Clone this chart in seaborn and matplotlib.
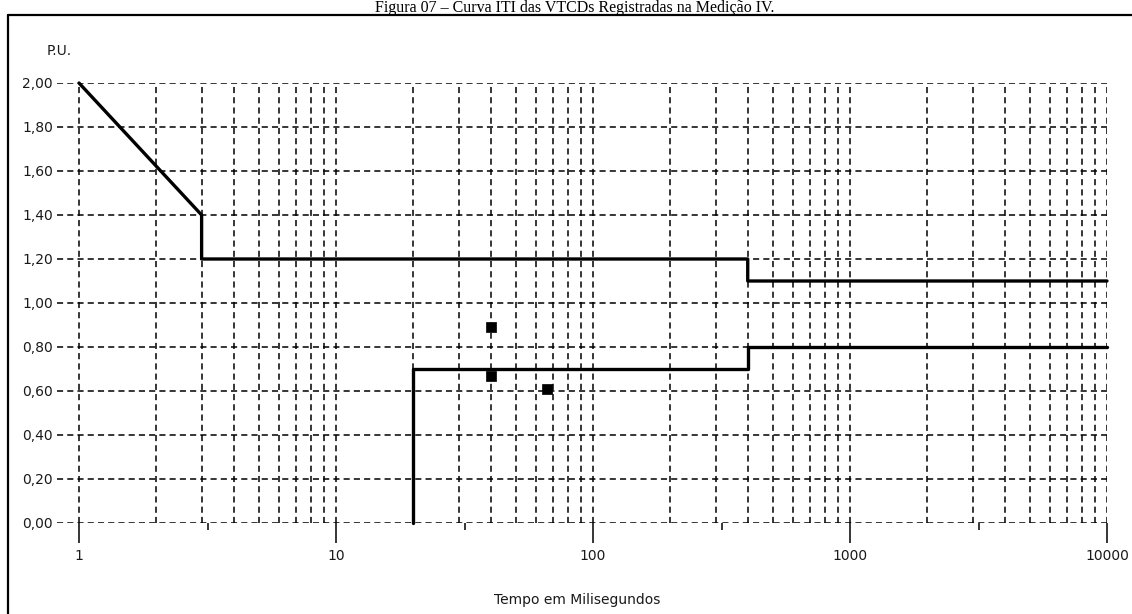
import matplotlib
matplotlib.use("Agg")
import matplotlib.pyplot as plt
from matplotlib.lines import Line2D
from matplotlib.ticker import FixedLocator, FuncFormatter, NullFormatter
import numpy as np
import pandas as pd
import seaborn as sns

# ITI tolerance envelope (time in ms, voltage in p.u.)
upper_t = [1, 3, 3, 400, 400, 10000]
upper_v = [2.00, 1.40, 1.20, 1.20, 1.10, 1.10]
lower_t = [20, 20, 400, 400, 10000]
lower_v = [0.00, 0.70, 0.70, 0.80, 0.80]

# Recorded voltage events
event_t = [40, 40, 66]
event_v = [0.89, 0.67, 0.61]

major_ticks = [1, 10, 100, 1000, 10000]
major_labels = ["1", "10", "100", "1000", "10000"]
y_ticks = [0.0, 0.2, 0.4, 0.6, 0.8, 1.0, 1.2, 1.4, 1.6, 1.8, 2.0]

title = "Figura 07 – Curva ITI das VTCDs Registradas na Medição IV."
x_label = "Tempo em Milisegundos"
y_label = "P.U."

sns.set_style("white")
plt.rcParams["font.family"] = ["DejaVu Sans"]

W, H = 1132, 614
fig = plt.figure(figsize=(W / 100, H / 100), dpi=100)
fig.patch.set_facecolor("white")

left_px, right_px, top_px, bottom_px = 57, 1107, 83, 523
ax = fig.add_axes([left_px / W, 1 - bottom_px / H,
                   (right_px - left_px) / W, (bottom_px - top_px) / H])
ax.set_facecolor("white")

ax.set_xscale("log")
ax.set_xlim(10 ** (-22 / 257), 10000)
ax.set_ylim(0, 2.0)

# dashed grid: decades plus 2..9 subdivisions
grid_x = [m * 10 ** d for d in range(0, 4) for m in range(1, 10)] + [10000]
for gx in grid_x:
    ax.axvline(gx, color="black", lw=1.1, ls=(0, (4, 2.7)), zorder=1)
for gy in y_ticks:
    ax.axhline(gy, color="black", lw=1.1, ls=(0, (4, 2.7)), zorder=1)

upper = pd.DataFrame({"t": upper_t, "v": upper_v})
lower = pd.DataFrame({"t": lower_t, "v": lower_v})
events = pd.DataFrame({"t": event_t, "v": event_v})

sns.lineplot(data=upper, x="t", y="v", sort=False, estimator=None,
             color="black", lw=2.4, ax=ax, zorder=3, clip_on=False)
sns.lineplot(data=lower, x="t", y="v", sort=False, estimator=None,
             color="black", lw=2.4, ax=ax, zorder=3, clip_on=False)
sns.scatterplot(data=events, x="t", y="v", marker="s", s=45, color="black",
                edgecolor="black", linewidth=0.5, ax=ax, zorder=4)

for s in ax.spines.values():
    s.set_visible(False)

txt_color = "#1a1a1a"
ax.xaxis.set_major_locator(FixedLocator(major_ticks))
ax.xaxis.set_major_formatter(FuncFormatter(lambda v, p: major_labels[major_ticks.index(v)] if v in major_ticks else ""))
ax.xaxis.set_minor_locator(FixedLocator([10 ** (d + 0.5) for d in range(4)]))
ax.xaxis.set_minor_formatter(NullFormatter())
ax.tick_params(axis="x", which="major", length=14.5, width=1.1, color="black",
               labelsize=10, labelcolor=txt_color, pad=4, bottom=True)
ax.tick_params(axis="x", which="minor", length=5, width=1.1, color="black", bottom=True)

ax.set_yticks(y_ticks)
ax.set_yticklabels([f"{v:.2f}".replace(".", ",") for v in y_ticks])
ax.tick_params(axis="y", which="both", length=0, labelsize=10,
               labelcolor=txt_color, pad=3)

ax.set_xlabel("")
ax.set_ylabel("")
fig.text(577 / W, 1 - 600 / H, x_label, ha="center", va="center",
         fontsize=10, color=txt_color)
fig.text(47 / W, 1 - 51 / H, y_label, ha="left", va="center",
         fontsize=10, color=txt_color)

# caption above the frame
fig.text(575 / W, 1 - 12 / H, title, ha="center", va="baseline",
         fontsize=11.5, family=["Liberation Serif"], color="black")

# figure frame
fig.add_artist(Line2D([8 / W, 1.0], [1 - 15 / H, 1 - 15 / H],
                      transform=fig.transFigure, color="black", lw=1.6))
fig.add_artist(Line2D([8 / W, 8 / W], [0.0, 1 - 15 / H],
                      transform=fig.transFigure, color="black", lw=1.6))

fig.savefig("out.png", dpi=100, facecolor="white")
